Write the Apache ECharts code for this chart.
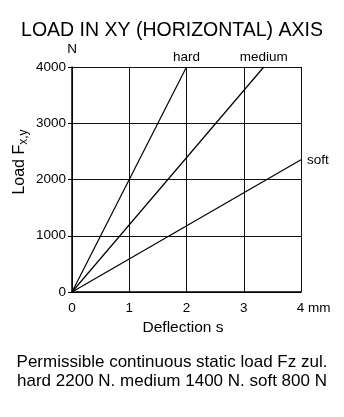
<!DOCTYPE html>
<html>
<head>
<meta charset="utf-8">
<script src="https://cdn.jsdelivr.net/npm/echarts@6/dist/echarts.min.js"></script>
<style>
html,body{margin:0;padding:0;background:#fff;}
#chart{width:344px;height:417px;}
</style>
</head>
<body>
<div id="chart"></div>
<script>
// Data
const seriesNames = ['hard', 'medium', 'soft'];
const hardDeflection = [0, 2];
const hardLoad = [0, 4000];
const mediumDeflection = [0, 3.35];
const mediumLoad = [0, 4000];
const softDeflection = [0, 4];
const softLoad = [0, 2350];
const xTicks = [0, 1, 2, 3, 4];
const yTicks = [0, 1000, 2000, 3000, 4000];
const titleText = 'LOAD IN XY (HORIZONTAL) AXIS';
const noteLines = ['Permissible continuous static load Fz zul.', 'hard 2200 N. medium 1400 N. soft 800 N'];

const FONT = '"Liberation Sans", Arial, sans-serif';

function pairs(xs, ys) { return xs.map((x, i) => [x, ys[i]]); }

function makeSeries(name, xs, ys, labelOpts) {
  const d = pairs(xs, ys);
  const data = d.map((p, i) => {
    if (i === d.length - 1) {
      return { value: p, label: Object.assign({ show: true, formatter: name, color: '#000', fontFamily: FONT, fontSize: 13.5 }, labelOpts) };
    }
    return { value: p, label: { show: false } };
  });
  return {
    name: name, type: 'line', data: data, showSymbol: true, showAllSymbol: true, symbol: 'circle', symbolSize: 0.01,
    itemStyle: { color: '#000' },
    lineStyle: { color: '#000', width: 1.2 }, silent: true, animation: false,
    labelLayout: { hideOverlap: false }
  };
}

const chart = echarts.init(document.getElementById('chart'), null, { renderer: 'canvas' });
chart.setOption({
  backgroundColor: '#fff',
  animation: false,
  title: {
    text: titleText, left: 'center', top: 16,
    textStyle: { fontFamily: FONT, fontSize: 19.5, fontWeight: 'normal', color: '#000' }
  },
  grid: { left: 72, right: 43, top: 67, bottom: 125 },
  xAxis: {
    type: 'value', min: xTicks[0], max: xTicks[xTicks.length - 1], interval: 1,
    name: 'Deflection s', nameLocation: 'middle', nameGap: 25,
    nameTextStyle: { fontFamily: FONT, fontSize: 15.5, color: '#000', padding: [0, 0, 0, -7] },
    axisLine: { lineStyle: { color: '#000', width: 1.5 } },
    axisTick: { show: false },
    axisLabel: {
      color: '#000', fontFamily: FONT, fontSize: 13.5, margin: 9,
      formatter: v => v === xTicks[xTicks.length - 1] ? '{p|}' + v + ' mm' : String(v),
      rich: { p: { width: 25 } }
    },
    splitLine: { show: true, lineStyle: { color: '#111', width: 1 } }
  },
  yAxis: {
    type: 'value', min: yTicks[0], max: yTicks[yTicks.length - 1], interval: 1000,
    name: 'N', nameLocation: 'end', nameGap: 11,
    nameTextStyle: { fontFamily: FONT, fontSize: 13.5, color: '#000', align: 'center', padding: [0, 0, 0, 0] },
    axisLine: { show: true, lineStyle: { color: '#000', width: 1.5 } },
    axisTick: { show: true, length: 4, lineStyle: { color: '#000', width: 1 } },
    axisLabel: { color: '#000', fontFamily: FONT, fontSize: 13.5, margin: 6, formatter: v => String(v) },
    splitLine: { show: true, lineStyle: { color: '#111', width: 1 } }
  },
  series: [
    makeSeries(seriesNames[0], hardDeflection, hardLoad, { position: 'top', distance: 3, offset: [0, 0] }),
    makeSeries(seriesNames[1], mediumDeflection, mediumLoad, { position: 'top', distance: 3, offset: [10, 0] }),
    makeSeries(seriesNames[2], softDeflection, softLoad, { position: 'right', distance: 6, offset: [0, -7] })
  ],
  graphic: [
    {
      type: 'text', x: 20, y: 162, rotation: Math.PI / 2,
      style: {
        text: '{a|Load F}{s|x,y}',
        align: 'center', verticalAlign: 'middle',
        rich: {
          a: { fontFamily: FONT, fontSize: 16, fill: '#000', color: '#000' },
          s: { fontFamily: FONT, fontSize: 12, fill: '#000', color: '#000', padding: [8, 0, 0, 0] }
        }
      }
    },
    {
      type: 'text', left: 'center', top: 354,
      style: { text: noteLines[0], font: '17px ' + FONT, fill: '#000' }
    },
    {
      type: 'text', left: 'center', top: 373,
      style: { text: noteLines[1], font: '17px ' + FONT, fill: '#000' }
    }
  ]
});
</script>
</body>
</html>
